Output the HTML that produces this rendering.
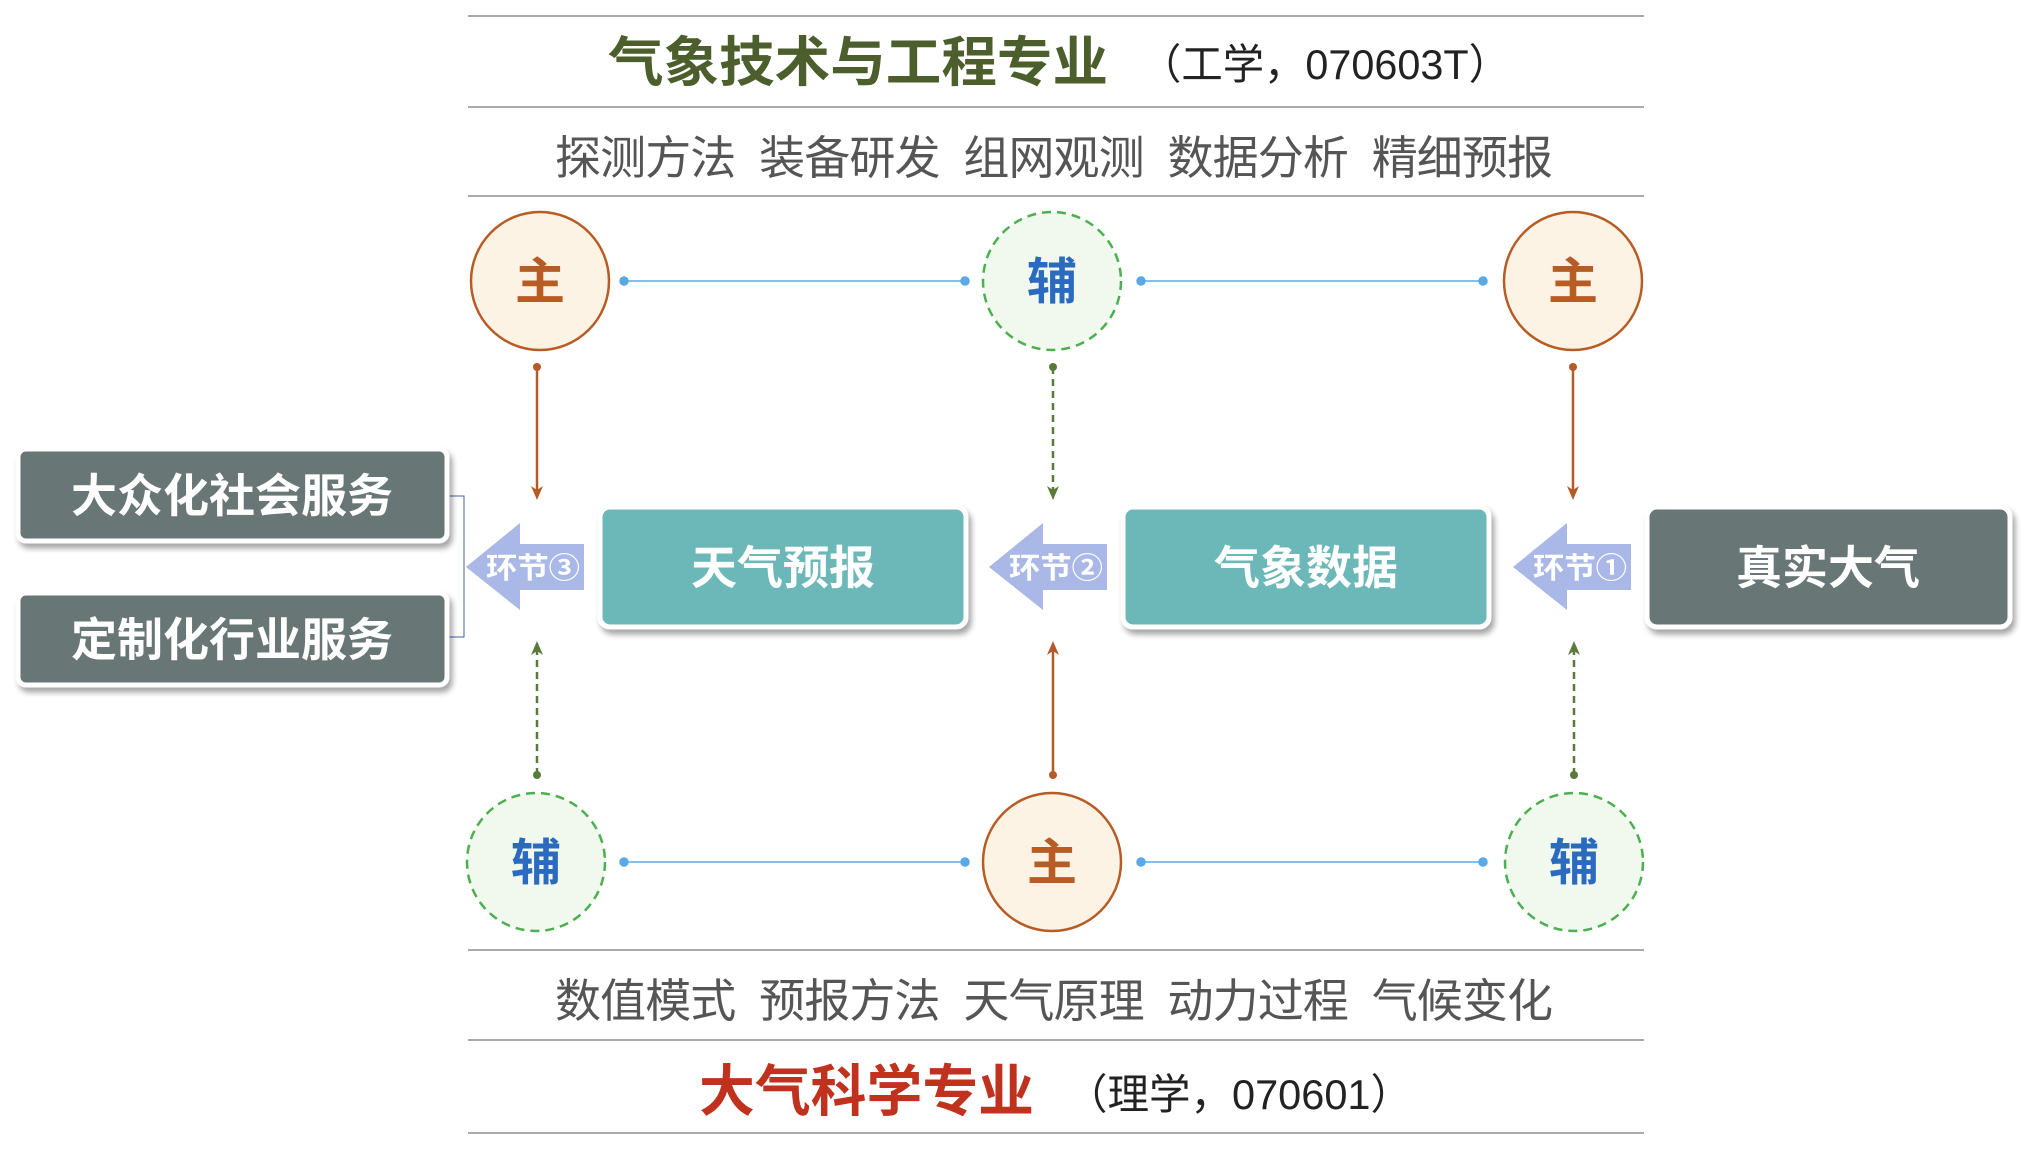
<!DOCTYPE html>
<html><head><meta charset="utf-8"><style>
body{margin:0;background:#fff;}
svg{display:block;font-family:"Liberation Sans","Noto Sans CJK SC",sans-serif;}
</style></head><body>
<svg width="2038" height="1152" viewBox="0 0 2038 1152" xmlns="http://www.w3.org/2000/svg">
<defs>
<filter id="sh" x="-10%" y="-10%" width="130%" height="140%"><feDropShadow dx="3" dy="5" stdDeviation="3" flood-color="#000" flood-opacity="0.35"/></filter>
</defs>
<g stroke="#aaa" stroke-width="2">
<line x1="468" y1="16" x2="1644" y2="16"/><line x1="468" y1="107" x2="1644" y2="107"/><line x1="468" y1="196" x2="1644" y2="196"/>
<line x1="468" y1="950" x2="1644" y2="950"/><line x1="468" y1="1040" x2="1644" y2="1040"/><line x1="468" y1="1133" x2="1644" y2="1133"/>
</g>
<text x="608" y="81" font-size="54" font-weight="bold" fill="#4b5e2b" textLength="500" lengthAdjust="spacingAndGlyphs">气象技术与工程专业</text>
<text x="1140" y="79" font-size="42" fill="#222" textLength="370" lengthAdjust="spacingAndGlyphs">（工学，070603T）</text>
<text x="555" y="174" font-size="46" fill="#555" textLength="998" lengthAdjust="spacing" xml:space="preserve">探测方法  装备研发  组网观测  数据分析  精细预报</text>
<text x="555" y="1017" font-size="46" fill="#555" textLength="998" lengthAdjust="spacing" xml:space="preserve">数值模式  预报方法  天气原理  动力过程  气候变化</text>
<text x="699" y="1111" font-size="56" font-weight="bold" fill="#c0321e" textLength="335" lengthAdjust="spacingAndGlyphs">大气科学专业</text>
<text x="1066" y="1109" font-size="42" fill="#222" textLength="346" lengthAdjust="spacingAndGlyphs">（理学，070601）</text>
<g stroke="#5aa9e6" stroke-width="1.5" fill="#5aa9e6">
<line x1="624" y1="281" x2="965" y2="281"/><line x1="1141" y1="281" x2="1483" y2="281"/>
<line x1="624" y1="862" x2="965" y2="862"/><line x1="1141" y1="862" x2="1483" y2="862"/>
<circle cx="624" cy="281" r="4"/><circle cx="965" cy="281" r="4"/><circle cx="1141" cy="281" r="4"/><circle cx="1483" cy="281" r="4"/>
<circle cx="624" cy="862" r="4"/><circle cx="965" cy="862" r="4"/><circle cx="1141" cy="862" r="4"/><circle cx="1483" cy="862" r="4"/>
</g>
<g font-size="50" font-weight="bold" text-anchor="middle">
<circle cx="540" cy="281" r="69" fill="#fdf3e4" stroke="#b85c26" stroke-width="2.5"/><text x="540" y="299" fill="#b85c26">主</text>
<circle cx="1052" cy="281" r="69" fill="#f1f8ee" stroke="#4caf50" stroke-width="2.5" stroke-dasharray="9,6"/><text x="1052" y="299" fill="#2a6bbf">辅</text>
<circle cx="1573" cy="281" r="69" fill="#fdf3e4" stroke="#b85c26" stroke-width="2.5"/><text x="1573" y="299" fill="#b85c26">主</text>
<circle cx="536" cy="862" r="69" fill="#f1f8ee" stroke="#4caf50" stroke-width="2.5" stroke-dasharray="9,6"/><text x="536" y="880" fill="#2a6bbf">辅</text>
<circle cx="1052" cy="862" r="69" fill="#fdf3e4" stroke="#b85c26" stroke-width="2.5"/><text x="1052" y="880" fill="#b85c26">主</text>
<circle cx="1574" cy="862" r="69" fill="#f1f8ee" stroke="#4caf50" stroke-width="2.5" stroke-dasharray="9,6"/><text x="1574" y="880" fill="#2a6bbf">辅</text>
</g>
<g stroke-width="2.5">
<line x1="537" y1="367" x2="537" y2="496" stroke="#b45a28"/><circle cx="537" cy="367" r="4" fill="#b45a28"/><path d="M531,486 L537,500 L543,486 L537,490z" fill="#b45a28"/>
<line x1="1053" y1="367" x2="1053" y2="496" stroke="#5a7a3a" stroke-dasharray="7,5"/><circle cx="1053" cy="367" r="4" fill="#5a7a3a"/><path d="M1047,486 L1053,500 L1059,486 L1053,490z" fill="#5a7a3a"/>
<line x1="1573" y1="367" x2="1573" y2="496" stroke="#b45a28"/><circle cx="1573" cy="367" r="4" fill="#b45a28"/><path d="M1567,486 L1573,500 L1579,486 L1573,490z" fill="#b45a28"/>
<line x1="537" y1="775" x2="537" y2="645" stroke="#5a7a3a" stroke-dasharray="7,5"/><circle cx="537" cy="775" r="4" fill="#5a7a3a"/><path d="M531,655 L537,641 L543,655 L537,651z" fill="#5a7a3a"/>
<line x1="1053" y1="775" x2="1053" y2="645" stroke="#b45a28"/><circle cx="1053" cy="775" r="4" fill="#b45a28"/><path d="M1047,655 L1053,641 L1059,655 L1053,651z" fill="#b45a28"/>
<line x1="1574" y1="775" x2="1574" y2="645" stroke="#5a7a3a" stroke-dasharray="7,5"/><circle cx="1574" cy="775" r="4" fill="#5a7a3a"/><path d="M1568,655 L1574,641 L1580,655 L1574,651z" fill="#5a7a3a"/>
</g>
<path d="M445,496 L464,496 L464,637 L445,637" fill="none" stroke="#4a5fa0" stroke-width="1"/>
<g filter="url(#sh)">
<rect x="600" y="507" width="366" height="120" rx="10" fill="#6cb8b8" stroke="#fff" stroke-width="5"/>
<rect x="1123" y="507" width="366" height="120" rx="10" fill="#6cb8b8" stroke="#fff" stroke-width="5"/>
<rect x="1647" y="507" width="363" height="120" rx="10" fill="#687675" stroke="#fff" stroke-width="5"/>
<rect x="18" y="449" width="429" height="92" rx="8" fill="#687675" stroke="#fff" stroke-width="5"/>
<rect x="18" y="593" width="429" height="92" rx="8" fill="#687675" stroke="#fff" stroke-width="5"/>
</g>
<g font-size="46" font-weight="bold" fill="#fff" text-anchor="middle">
<text x="783" y="584">天气预报</text>
<text x="1306" y="584">气象数据</text>
<text x="1828" y="584">真实大气</text>
<text x="232" y="512">大众化社会服务</text>
<text x="232" y="656">定制化行业服务</text>
</g>
<g fill="#a9b8e6">
<path d="M466,567 L520,523 L520,544 L584,544 L584,590 L520,590 L520,610z"/>
<path d="M989,567 L1043,523 L1043,544 L1107,544 L1107,590 L1043,590 L1043,610z"/>
<path d="M1513,567 L1567,523 L1567,544 L1631,544 L1631,590 L1567,590 L1567,610z"/>
</g>
<g font-size="29" font-weight="bold" fill="#fff">
<text x="486" y="578" textLength="94" lengthAdjust="spacingAndGlyphs">环节③</text>
<text x="1009" y="578" textLength="94" lengthAdjust="spacingAndGlyphs">环节②</text>
<text x="1533" y="578" textLength="94" lengthAdjust="spacingAndGlyphs">环节①</text>
</g>
</svg>
</body></html>
